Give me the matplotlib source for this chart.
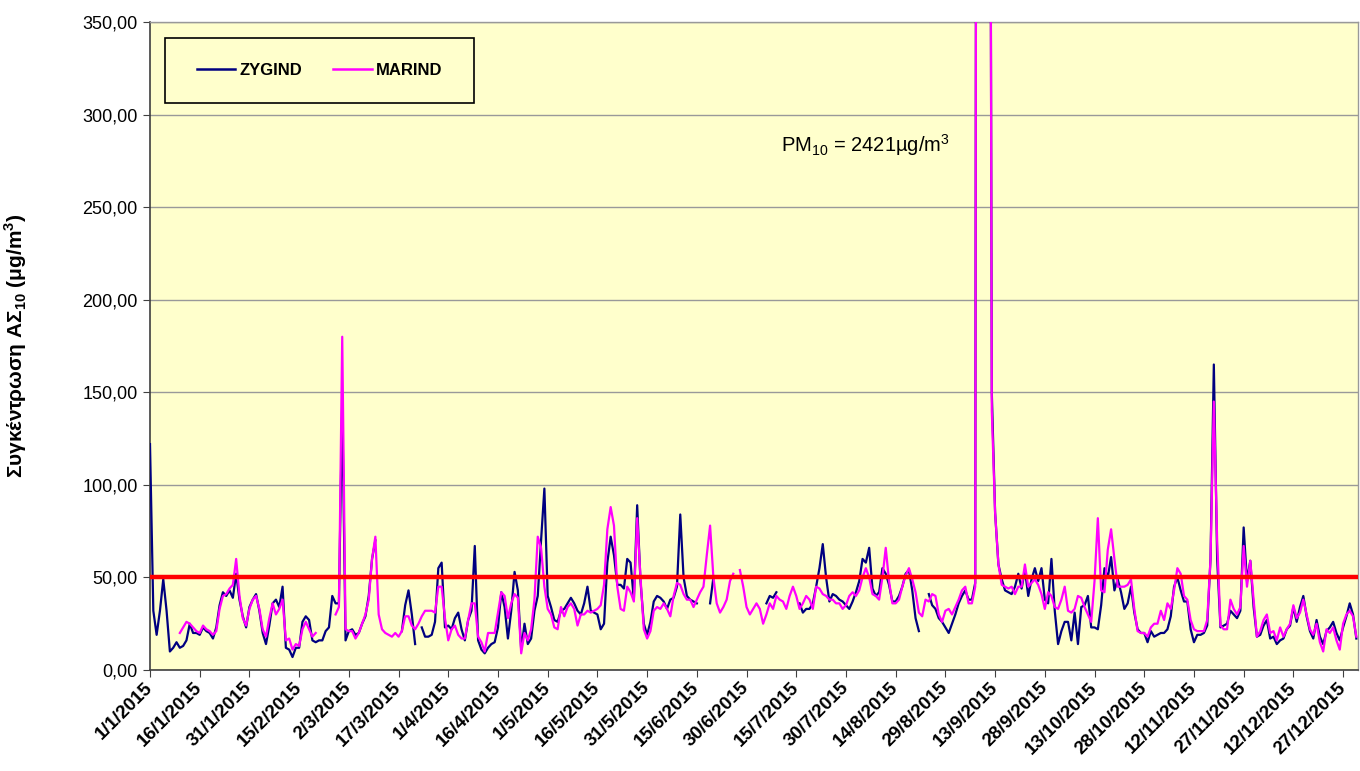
import numpy as np
import matplotlib
matplotlib.use("Agg")
import matplotlib.pyplot as plt
from matplotlib.patches import Rectangle
from matplotlib.lines import Line2D

nan = np.nan

# Daily PM10 concentrations 2015 (day index 0 = 1/1/2015)
zygind = [
    # Jan
    122, 32, 19, 32, 49, 32, 10, 12, 15, 12, 13, 16, 25, 20, 20, 19, 23, 21, 20, 17,
    23, 35, 42, 40, 43, 39, 52, 38, 29, 23, 34,
    # Feb
    38, 41, 32, 20, 14, 24, 36, 38, 34, 45, 12, 11, 7, 12, 12, 26, 29, 27, 16, 15,
    16, 16, 21, 23, 40, 36, 36, 145,
    # Mar
    16, 21, 22, 19, 20, 25, 29, 40, 60, 70, nan, nan, nan, nan, nan, nan, nan,
    21, 35, 43, 30, 14, nan, 23, 18, 18, 19, 26, 55, 58, 23,
    # Apr
    24, 22, 28, 31, 22, 16, 27, 32, 67, 16, 11, 9, 12, 14, 15, 23, 42, 34, 17, 32,
    53, 43, 11, 25, 14, 17, 32, 40, 70, 98,
    # May
    40, 34, 27, 26, 32, 33, 36, 39, 36, 32, 30, 36, 45, 32, 31, 30, 22, 25, 58, 72,
    62, 46, 46, 44, 60, 58, 38, 89, 48, 25, 19,
    # Jun
    26, 37, 40, 39, 37, 33, 38, 39, 45, 84, 50, 40, 38, 37, 36, nan, nan, nan, 36, 50,
    nan, nan, nan, nan, nan, nan, nan, nan, nan, nan,
    # Jul
    nan, nan, nan, nan, nan, 36, 40, 39, 42, nan, nan, nan, nan, nan, nan,
    36, 31, 33, 33, 36, 45, 55, 68, 50, 37, 41, 40, 38, 37, 35, 33,
    # Aug
    37, 42, 48, 60, 58, 66, 44, 40, 42, 55, 52, 46, 37, 37, 40, 45, 52, 54, 43, 28,
    21, nan, nan, 41, 35, 33, 28, 26, 23, 20, 25,
    # Sep
    30, 36, 40, 43, 38, 38, 47, 1500, 2421, 1800, 900, 150, 85, 57, 49, 43, 42, 41, 45, 52,
    44, 54, 40, 49, 55, 48, 55, 38, 36, 60,
    # Oct
    32, 14, 21, 26, 26, 16, 31, 14, 34, 35, 40, 23, 23, 22, 35, 55, 50, 61, 43, 49,
    42, 33, 36, 45, 31, 22, 20, 20, 15, 21, 18,
    # Nov
    19, 20, 20, 22, 29, 45, 50, 43, 37, 37, 22, 15, 19, 19, 20, 24, 60, 165, 60, 23,
    24, 25, 32, 30, 28, 32, 77, 48, 59, 34,
    # Dec
    18, 19, 24, 27, 17, 18, 14, 16, 17, 22, 24, 34, 26, 34, 40, 29, 21, 17, 27, 18,
    14, 21, 23, 26, 20, 16, 23, 29, 36, 30, 17,
]

marind = [
    # Jan
    nan, nan, nan, nan, nan, nan, nan, nan, nan, 20, 23, 26, 25, 23, 21, 20, 24, 22, 21, 19,
    21, 33, 40, 41, 44, 46, 60, 40, 28, 24, 33,
    # Feb
    38, 40, 33, 22, 18, 28, 36, 30, 33, 38, 16, 17, 11, 14, 13, 22, 26, 22, 18, 20,
    nan, nan, nan, nan, nan, 30, 34, 180,
    # Mar
    22, 21, 21, 17, 20, 25, 30, 38, 60, 72, 30, 22, 20, 19, 18, 20, 18, 21, 29, 29,
    24, 22, 25, 29, 32, 32, 32, 31, 45, 45, 28,
    # Apr
    16, 22, 24, 19, 17, 17, 27, 36, 36, 18, 15, 10, 20, 20, 20, 31, 42, 40, 28, 36,
    41, 39, 9, 20, 16, 22, 38, 72, 66, 45,
    # May
    33, 30, 23, 22, 34, 29, 34, 36, 33, 24, 30, 30, 32, 31, 32, 33, 35, 46, 76, 88,
    78, 45, 33, 32, 45, 42, 37, 82, 50, 22, 17,
    # Jun
    21, 32, 34, 33, 36, 33, 29, 40, 47, 46, 41, 38, 38, 34, 38, 42, 45, 62, 78, 50,
    36, 31, 34, 38, 48, 52, nan, 54, 45, 34,
    # Jul
    30, 33, 36, 33, 25, 30, 36, 33, 40, 38, 37, 33, 40, 45, 40, 33, 36, 40, 38, 33,
    45, 44, 41, 40, 38, 38, 36, 36, 33, 35, 40,
    # Aug
    42, 40, 43, 50, 55, 50, 41, 40, 38, 50, 66, 48, 36, 36, 38, 45, 51, 55, 49, 42,
    31, 29, 38, 37, 41, 40, 30, 26, 32, 33, 30,
    # Sep
    34, 38, 43, 45, 36, 36, 45, 1500, 2421, 1800, 900, 140, 85, 57, 46, 45, 44, 45, 41, 45,
    45, 57, 45, 47, 49, 46, 41, 33, 42, 40,
    # Oct
    34, 33, 38, 45, 32, 31, 33, 40, 39, 34, 30, 26, 48, 82, 43, 42, 65, 76, 60, 45,
    45, 45, 46, 49, 33, 21, 20, 20, 18, 23, 25,
    # Nov
    25, 32, 27, 36, 33, 43, 55, 52, 40, 38, 27, 22, 21, 21, 21, 27, 60, 145, 70, 24,
    22, 22, 38, 33, 30, 34, 67, 45, 59, 38,
    # Dec
    18, 21, 27, 30, 20, 21, 16, 23, 18, 22, 25, 35, 28, 31, 38, 30, 22, 19, 25, 15,
    10, 22, 20, 23, 16, 11, 25, 30, 32, 29, 18,
]

limit_value = 50
series_names = ["ZYGIND", "MARIND"]
series_colors = ["#000080", "#FF00FF"]

x_tick_labels = ["1/1/2015", "16/1/2015", "31/1/2015", "15/2/2015", "2/3/2015",
                 "17/3/2015", "1/4/2015", "16/4/2015", "1/5/2015", "16/5/2015",
                 "31/5/2015", "15/6/2015", "30/6/2015", "15/7/2015", "30/7/2015",
                 "14/8/2015", "29/8/2015", "13/9/2015", "28/9/2015", "13/10/2015",
                 "28/10/2015", "12/11/2015", "27/11/2015", "12/12/2015", "27/12/2015"]
y_ticks = [0, 50, 100, 150, 200, 250, 300, 350]
y_tick_labels = ["0,00", "50,00", "100,00", "150,00", "200,00", "250,00", "300,00", "350,00"]

assert len(zygind) == 365 and len(marind) == 365

plt.rcParams['font.family'] = ['Liberation Sans', 'DejaVu Sans']
plt.rcParams['mathtext.fontset'] = 'custom'
plt.rcParams['mathtext.rm'] = 'Liberation Sans'

fig = plt.figure(figsize=(13.6, 7.71), dpi=100)
fig.patch.set_facecolor('white')
ax = fig.add_axes([150/1360, 1-670/771, 1208/1360, 648/771])
ax.set_facecolor('#FFFFCC')

days = np.arange(len(zygind))
ax.plot(days, np.array(zygind, dtype=float), color=series_colors[0], lw=1.6, zorder=3)
ax.plot(days, np.array(marind, dtype=float), color=series_colors[1], lw=1.6, zorder=4)
ax.axhline(limit_value, color='#FF0000', lw=3.2, zorder=5)

ax.set_ylim(0, 350)
ax.set_xlim(0, 364.5)
ax.set_yticks(y_ticks)
ax.set_yticklabels(y_tick_labels, fontsize=13)
ax.set_xticks(np.arange(0, 15*len(x_tick_labels), 15))
ax.set_xticklabels(x_tick_labels, fontsize=13.5, fontweight='bold', rotation=45,
                   ha='right', va='center', rotation_mode='anchor')
ax.tick_params(axis='x', length=5, pad=6, color='#404040')
ax.tick_params(axis='y', length=5, pad=4, color='#404040')
ax.yaxis.grid(True, color='#999999', lw=1.0, zorder=1)
ax.set_axisbelow(True)
for s in ['left', 'bottom']:
    ax.spines[s].set_color('#404040')
    ax.spines[s].set_linewidth(1.2)
for s in ['top', 'right']:
    ax.spines[s].set_color('#999999')
    ax.spines[s].set_linewidth(1.0)

ax.set_ylabel(r'Συγκέντρωση ΑΣ$_{\mathregular{10}}$ (μg/m$^{\mathregular{3}}$)',
              fontsize=15, fontweight='bold')
ax.yaxis.set_label_coords(-(150-29)/1208, 0.5)

ax.text(190.3, 283.6, r'PM$_{\mathregular{10}}$ = 2421µg/m$^{\mathregular{3}}$',
        fontsize=14.5, va='center', ha='left', zorder=6)

# legend box
ax.add_patch(Rectangle((15/1208, 1-81/648), 309/1208, 65/648, transform=ax.transAxes,
                       facecolor='#FFFFCC', edgecolor='black', lw=1.2, zorder=6))
handles = [Line2D([], [], color=c, lw=1.8) for c in series_colors]
leg = ax.legend(handles, series_names, loc='center',
                bbox_to_anchor=((15+309/2)/1208, 1-(81-65/2)/648),
                ncol=2, frameon=False, prop={'weight': 'bold', 'size': 12},
                handlelength=2.3, handletextpad=0.25, columnspacing=1.9)
leg.set_zorder(7)

fig.savefig('out.png', dpi=100)
